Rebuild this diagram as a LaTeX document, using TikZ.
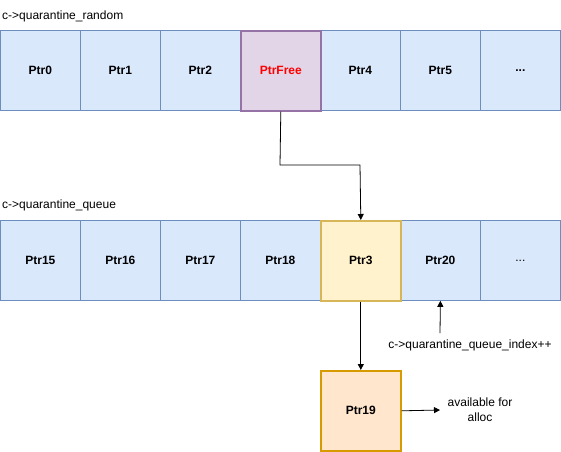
\documentclass[tikz,border=0pt]{standalone}
\usepackage{fontspec}
\setmainfont{Liberation Sans}
\usetikzlibrary{arrows.meta}
\definecolor{bfill}{HTML}{DAE8FC}
\definecolor{bline}{HTML}{6C8EBF}
\definecolor{pfill}{HTML}{E1D5E7}
\definecolor{pline}{HTML}{9673A6}
\definecolor{yfill}{HTML}{FFF2CC}
\definecolor{yline}{HTML}{D6B656}
\definecolor{ofill}{HTML}{FFE6CC}
\definecolor{oline}{HTML}{D79B00}
\definecolor{redtxt}{HTML}{FF0000}
\begin{document}
\begin{tikzpicture}[x=1pt,y=-1pt,
  cell/.style={draw=bline,fill=bfill,line width=0.8pt,minimum width=80pt,minimum height=80pt,inner sep=0pt,font=\fontsize{12}{14}\selectfont\bfseries,anchor=north west},
  pcell/.style={cell,draw=pline,fill=pfill,line width=1.6pt,text=redtxt},
  ycell/.style={cell,draw=yline,fill=yfill,line width=1.6pt},
  ocell/.style={cell,draw=oline,fill=ofill,line width=1.6pt},
  lbl/.style={font=\fontsize{12}{14}\selectfont,inner sep=0pt},
  arr/.style={draw=black,line width=0.8pt,-{Triangle[length=6pt,width=6pt]}}]
\useasboundingbox (0,0) rectangle (561,451);
\fill[white] (0,0) rectangle (561,451);
\node[lbl,anchor=west] (l1) at (2,16) {c->quarantine\_random};
\node[cell] (a0) at (0,30) {Ptr0};
\node[cell] (a1) at (80,30) {Ptr1};
\node[cell] (a2) at (160,30) {Ptr2};
\node[cell] (a4) at (320,30) {Ptr4};
\node[cell] (a5) at (400,30) {Ptr5};
\node[cell] (a6) at (480,30) {...};
\node[pcell] (a3) at (240,30) {PtrFree};
\node[lbl,anchor=west] (l2) at (2,205) {c->quarantine\_queue};
\node[cell] (b0) at (0,220) {Ptr15};
\node[cell] (b1) at (80,220) {Ptr16};
\node[cell] (b2) at (160,220) {Ptr17};
\node[cell] (b3) at (240,220) {Ptr18};
\node[cell] (b5) at (400,220) {Ptr20};
\node[cell,font=\fontsize{12}{14}\selectfont] (b6) at (480,220) {...};
\node[ycell] (b4) at (320,220) {Ptr3};
\node[ocell] (c0) at (320,370) {Ptr19};
\node[lbl] (l3) at (470,345) {c->quarantine\_queue\_index++};
\node[lbl,align=center,font=\fontsize{12}{15}\selectfont] (l4) at (480,410) {available for\\alloc};
\coordinate (t1) at (440,333);
\coordinate (t2) at (440,410);
\draw[arr] (a3.south) -- (280,165) -- (360,165) -- (b4.north);
\draw[arr] (b4.south) -- (c0.north);
\draw[arr] (t1) -- (b5.south);
\draw[arr] (c0.east) -- (t2);
\end{tikzpicture}
\end{document}
